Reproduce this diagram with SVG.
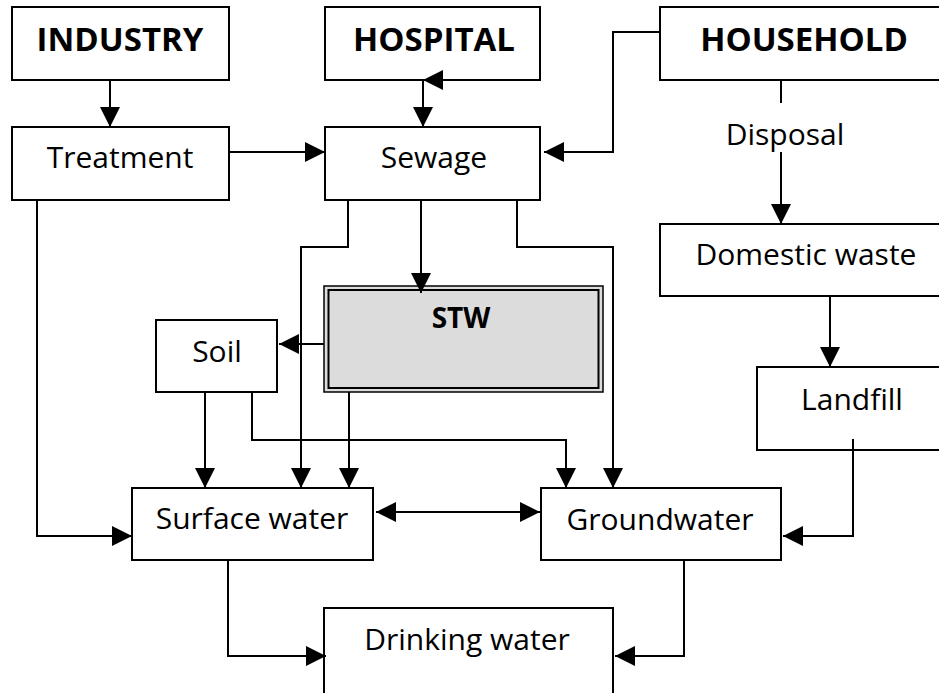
<svg xmlns="http://www.w3.org/2000/svg" width="939" height="693" viewBox="0 0 939 693">
<defs>
<style>
.box{fill:#fff;stroke:#000;stroke-width:2}
.t{font-family:"Open Sans","Liberation Sans",sans-serif;font-size:30px;fill:#000;text-anchor:middle}
.b{font-family:"Open Sans","Liberation Sans",sans-serif;font-size:33px;font-weight:bold;fill:#000;text-anchor:middle}
.c{fill:none;stroke:#000;stroke-width:2}
</style>
<marker id="ah" viewBox="0 0 20 20" refX="20" refY="10" markerWidth="20" markerHeight="20" markerUnits="userSpaceOnUse" orient="auto">
<path d="M0,0 L20,10 L0,20 z" fill="#000"/>
</marker>
<marker id="as" viewBox="0 0 20 20" refX="0" refY="10" markerWidth="20" markerHeight="20" markerUnits="userSpaceOnUse" orient="auto">
<path d="M20,0 L0,10 L20,20 z" fill="#000"/>
</marker>
</defs>
<rect width="939" height="693" fill="#fff"/>

<g id="industry"><rect class="box" x="12" y="7" width="217" height="73"/><text class="b" x="120" y="51">INDUSTRY</text></g>
<g id="hospital"><rect class="box" x="325" y="7" width="215" height="73"/><text class="b" x="434" y="51">HOSPITAL</text></g>
<g id="household"><rect class="box" x="660" y="7" width="290" height="73"/><text class="b" x="804" y="51">HOUSEHOLD</text></g>
<g id="treatment"><rect class="box" x="12" y="127" width="217" height="73"/><text class="t" x="120" y="168">Treatment</text></g>
<g id="sewage"><rect class="box" x="325" y="127" width="215" height="73"/><text class="t" x="434" y="168">Sewage</text></g>
<g id="domestic"><rect class="box" x="660" y="224" width="290" height="72"/><text class="t" x="806" y="265">Domestic waste</text></g>
<g id="landfill"><rect class="box" x="757" y="367" width="193" height="83"/><text class="t" x="852" y="410">Landfill</text></g>
<g id="soil"><rect class="box" x="156" y="320" width="121" height="72"/><text class="t" x="217" y="362">Soil</text></g>
<g id="stw"><rect x="324" y="286" width="279" height="106" fill="#dcdcdc" stroke="#000" stroke-width="1.5"/><rect x="328.5" y="290" width="270" height="98" fill="none" stroke="#000" stroke-width="2"/><text class="b" style="font-size:28px" x="461" y="328">STW</text></g>
<g id="surface"><rect class="box" x="132" y="488" width="241" height="72"/><text class="t" x="252" y="529">Surface water</text></g>
<g id="groundwater"><rect class="box" x="541" y="488" width="240" height="72"/><text class="t" x="660" y="530">Groundwater</text></g>
<g id="drinking"><rect class="box" x="324" y="608" width="289" height="100"/><text class="t" x="467" y="650">Drinking water</text></g>

<g id="connectors">
<path class="c" d="M110,80 V127" marker-end="url(#ah)"/>
<path class="c" d="M423,80 V127" marker-end="url(#ah)"/>
<polygon points="423,80 443,70 443,90" fill="#000"/>
<path class="c" d="M229,152 H325" marker-end="url(#ah)"/>
<path class="c" d="M660,32 H613 V152 H544" marker-end="url(#ah)"/>
<path class="c" d="M781,80 V103"/>
<text class="t" x="785" y="145">Disposal</text>
<path class="c" d="M781,152 V224" marker-end="url(#ah)"/>
<path class="c" d="M830,296 V367" marker-end="url(#ah)"/>
<path class="c" d="M853,439 V536 H783" marker-end="url(#ah)"/>
<path class="c" d="M421,200 V293" marker-end="url(#ah)"/>
<path class="c" d="M348,200 V247 H301 V488" marker-end="url(#ah)"/>
<path class="c" d="M517,200 V247 H613 V488" marker-end="url(#ah)"/>
<path class="c" d="M324,344 H279" marker-end="url(#ah)"/>
<path class="c" d="M205,392 V488" marker-end="url(#ah)"/>
<path class="c" d="M252,392 V440 H566 V488" marker-end="url(#ah)"/>
<path class="c" d="M349,392 V488" marker-end="url(#ah)"/>
<path class="c" d="M37,200 V536 H132" marker-end="url(#ah)"/>
<path class="c" d="M376,512 H540" marker-start="url(#as)" marker-end="url(#ah)"/>
<path class="c" d="M228,560 V656 H326" marker-end="url(#ah)"/>
<path class="c" d="M684,560 V656 H615" marker-end="url(#ah)"/>
</g>
</svg>
